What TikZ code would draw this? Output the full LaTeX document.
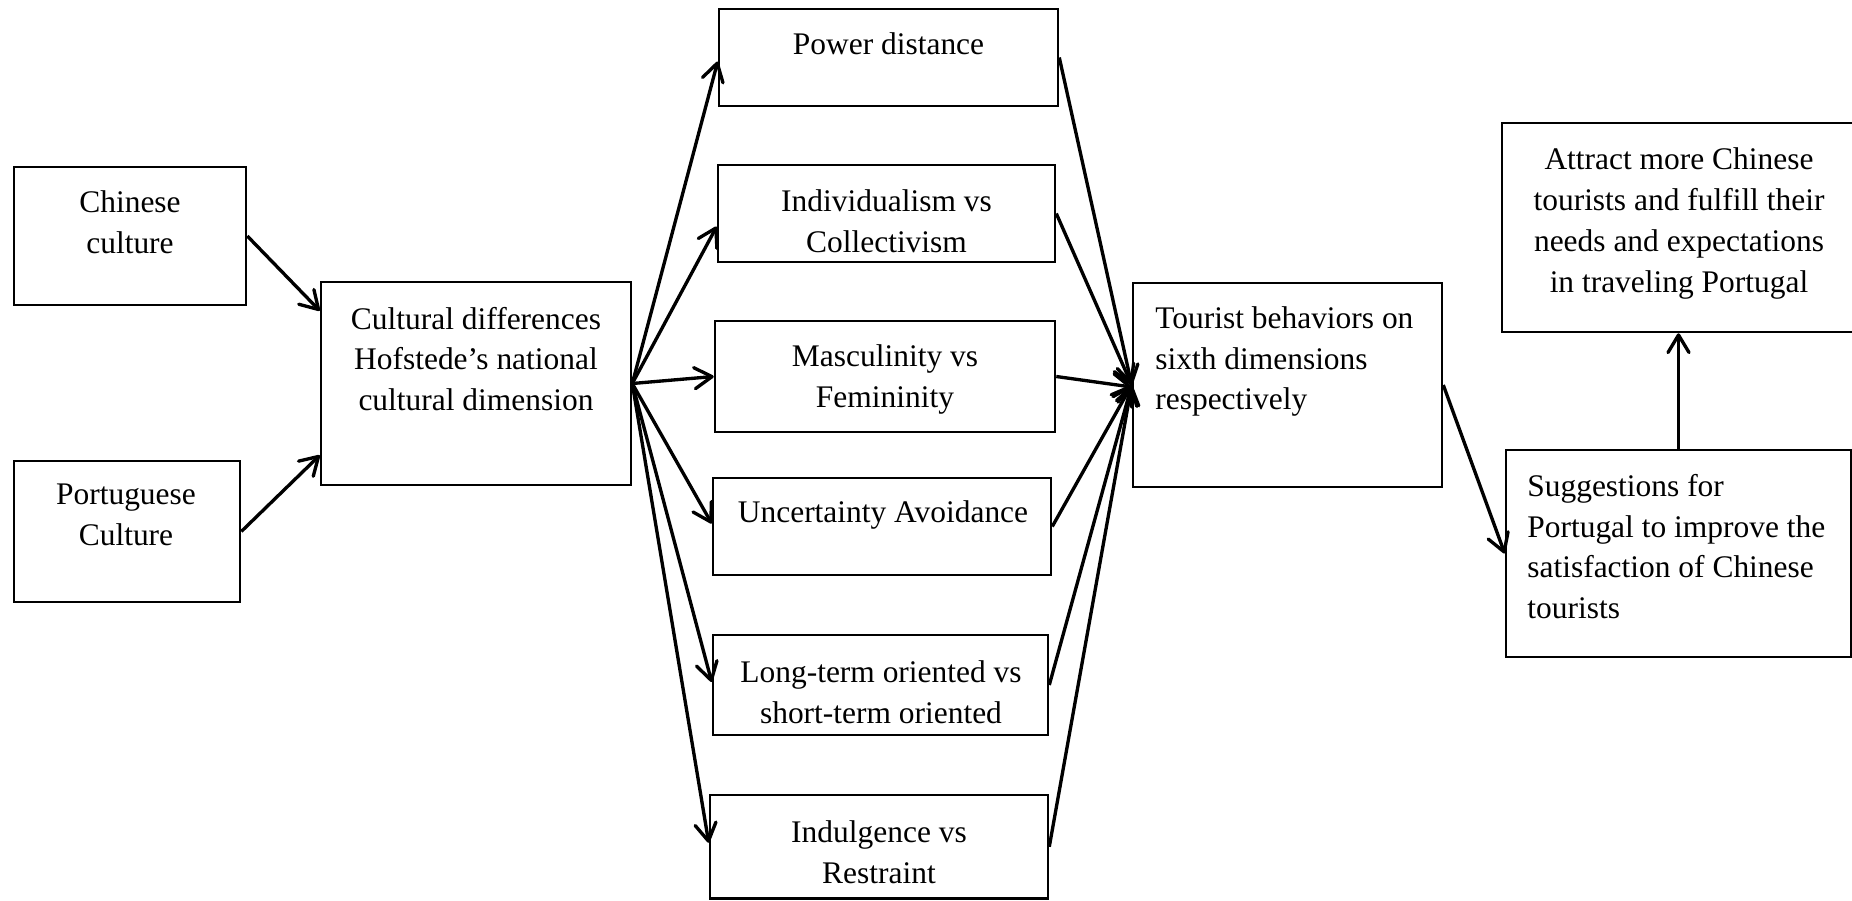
\documentclass[tikz,border=0pt]{standalone}
\usepackage{fontspec}
\setmainfont{Liberation Serif}
\usetikzlibrary{arrows.meta,calc}
\begin{document}
\begin{tikzpicture}[x=0.02cm,y=-0.02cm,
  box/.style={draw, line width=1.5pt, rectangle, inner sep=0pt},
  txt/.style={inner sep=0pt, font=\fontsize{17.9}{23.24}\selectfont, execute at begin node=\strut},
  ctxt/.style={txt, align=center, anchor=north},
  ltxt/.style={txt, align=left, anchor=north west},
  arr/.style={line width=1.9pt, -{Straight Barb[length=10pt,width=12pt,round]}}]
\useasboundingbox (0,0) rectangle (1852,900);

% boxes
\node[box, minimum width=4.64cm, minimum height=2.76cm] (cc) at (130,236) {};
\node[box, minimum width=4.52cm, minimum height=2.82cm] (pc) at (127,531.5) {};
\node[box, minimum width=6.2cm, minimum height=4.06cm] (cd) at (476,383.5) {};
\node[box, minimum width=6.78cm, minimum height=1.94cm] (pd) at (888.5,57.5) {};
\node[box, minimum width=6.74cm, minimum height=1.94cm] (ic) at (886.5,213.5) {};
\node[box, minimum width=6.8cm, minimum height=2.22cm] (mf) at (885,376.5) {};
\node[box, minimum width=6.76cm, minimum height=1.94cm] (ua) at (882,526.5) {};
\node[box, minimum width=6.7cm, minimum height=2.0cm] (lt) at (880.5,685) {};
\node[box, minimum width=6.76cm, minimum height=2.07cm] (ir) at (879,846.75) {};
\node[box, minimum width=6.18cm, minimum height=4.08cm] (tb) at (1287.5,385) {};
\node[box, minimum width=7.16cm, minimum height=4.18cm] (at) at (1681,227.5) {};
\node[box, minimum width=6.9cm, minimum height=4.14cm] (sg) at (1678.5,553.5) {};

% texts
\node[ctxt] (cct) at (130,190.5) {Chinese\\culture};
\node[ctxt] (pct) at (126,484) {Portuguese\\Culture};
\node[ctxt] (cdt) at (476,306.5) {Cultural differences\\Hofstede’s national\\cultural dimension};
\node[ctxt] (pdt) at (888.5,25.8) {Power distance};
\node[ctxt] (ict) at (886.5,189) {Individualism vs\\Collectivism};
\node[ctxt] (mft) at (885,344) {Masculinity vs\\Femininity};
\node[ctxt] (uat) at (883,493.8) {Uncertainty Avoidance};
\node[ctxt] (ltt) at (881,660) {Long-term oriented vs\\short-term oriented};
\node[ctxt] (irt) at (879,820) {Indulgence vs\\Restraint};
\node[ltxt] (tbt) at (1155,306) {Tourist behaviors on\\sixth dimensions\\respectively};
\node[ctxt] (att) at (1679,147.8) {Attract more Chinese\\tourists and fulfill their\\needs and expectations\\in traveling Portugal};
\node[ltxt] (sgt) at (1527,473.8) {Suggestions for\\Portugal to improve the\\satisfaction of Chinese\\tourists};

% connectors
\draw[arr] (cc.east) -- ($(cd.north west)+(0,30)$);
\draw[arr] (pc.east) -- ($(cd.south west)+(0,-31)$);

\draw[arr] (cd.east) -- ($(pd.west)+(0,4)$);
\draw[arr] (cd.east) -- ($(ic.west)+(0,13)$);
\draw[arr] (cd.east) -- (mf.west);
\draw[arr] (cd.east) -- ($(ua.west)+(0,-3)$);
\draw[arr] (cd.east) -- ($(lt.west)+(0,-3)$);
\draw[arr] (cd.east) -- ($(ir.west)+(0,-4)$);

\draw[arr] (pd.east) -- (tb.west);
\draw[arr] (ic.east) -- (tb.west);
\draw[arr] (mf.east) -- ($(tb.west)+(0,2)$);
\draw[arr] (ua.east) -- (tb.west);
\draw[arr] (lt.east) -- (tb.west);
\draw[arr] (ir.east) -- (tb.west);

\draw[arr] (tb.east) -- (sg.west);
\draw[arr] (sg.north) -- (sg.north |- at.south);
\end{tikzpicture}
\end{document}
